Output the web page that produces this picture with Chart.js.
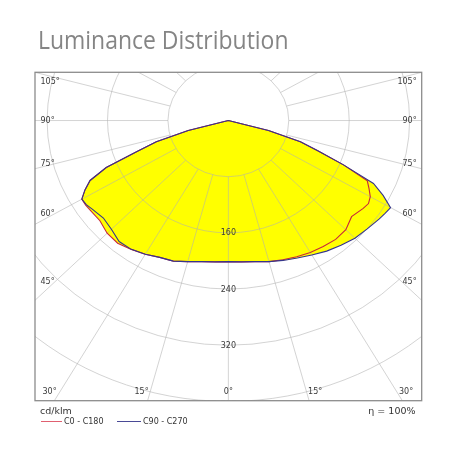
<!DOCTYPE html>
<html>
<head>
<meta charset="utf-8">
<script src="https://cdn.jsdelivr.net/npm/chart.js@4/dist/chart.umd.min.js"></script>
<style>
  html, body { margin: 0; padding: 0; background: #ffffff; }
  #wrap { position: relative; width: 458px; height: 458px; overflow: hidden; background: #fff; }
  #c { position: absolute; left: 0; top: 0; }
  .t { position: absolute; white-space: nowrap; line-height: 1; }
  #title { left: 37.5px; top: 26px; font-family: "Open Sans", sans-serif; font-size: 26px; color: #858585; transform-origin: 0 0; }
  #unit { left: 40px; top: 406px; font-family: "DejaVu Sans", sans-serif; font-size: 9.5px; color: #333; }
  #eta { right: 42.5px; top: 406px; font-family: "DejaVu Sans", sans-serif; font-size: 9.5px; color: #333; }
  .leg { position: absolute; top: 417.5px; height: 8px; display: flex; align-items: center; font-family: "DejaVu Sans", sans-serif; font-size: 8px; color: #333; white-space: nowrap; }
  .leg i { display: inline-block; width: 21px; height: 1px; margin-right: 2px; }
</style>
</head>
<body>
<div id="wrap">
  <canvas id="c" width="458" height="458"></canvas>
  <div class="t" id="title">Luminance Distribution</div>
  <div class="t" id="unit">cd/klm</div>
  <div class="t" id="eta">&eta; = 100%</div>
  <div class="leg" id="leg1" style="left:41px"><i style="background:#e06070"></i>C0 - C180</div>
  <div class="leg" id="leg2" style="left:117px"><i style="background:#4a4a96;width:24px"></i>C90 - C270</div>
</div>
<script>
// ---- data (cd/klm), gamma angles in degrees measured from nadir ----
const angles = [0,5,10,15,20,25,30,35,40,45,50,55,57.5,60,62.5,65,67.5,70,72.5,75,77.5,80,85,90];
const c0   = [201,202,204,208,211,214,217,219,221,220,213,218,220,217,210,203,165,126,100,55,0,0,0,0];
const c180 = [201,202,204,208,213,215,220,224,228,227,222,223,224,224,214,202,175,128,100,55,0,0,0,0];
const c90  = [201,202,204,208,212,216,221,227,232,237,240,244,246,248,231,212,165,126,100,55,0,0,0,0];
const c270 = [201,202,204,208,213,215,220,224,225,219,216,220,223,224,214,202,175,128,100,55,0,0,0,0];

const circleValues = [80,160,240,320,400,480,560,640];
const radialLabels = [160,240,320];
const sideAngleLabels = [105,90,75,60,45];
const bottomAngleLabels = [30,15,0];
const spokeStep = 15;

const seriesNames = ['C0 - C180','C90 - C270'];

// polar (gamma, value) -> cartesian data units; left half = C180/C270, right half = C0/C90
function curve(leftVals, rightVals) {
  const pts = [];
  for (let i = angles.length - 1; i >= 0; i--) {
    const g = angles[i] * Math.PI / 180;
    pts.push({ x: -leftVals[i] * Math.sin(g), y: -leftVals[i] * Math.cos(g) });
  }
  for (let i = 0; i < angles.length; i++) {
    const g = angles[i] * Math.PI / 180;
    pts.push({ x: rightVals[i] * Math.sin(g), y: -rightVals[i] * Math.cos(g) });
  }
  return pts;
}
const curveA = curve(c180, c0);
const curveB = curve(c270, c90);

const RED = '#c8283a';
const BLUE = '#35358c';
const YELLOW = '#ffff00';

const gridPlugin = {
  id: 'polarGrid',
  afterDatasetDraw(chart, args) {
    if (args.index !== 0) return;
    const {ctx, chartArea: a} = chart;
    const xs = chart.scales.x, ys = chart.scales.y;
    const cx = xs.getPixelForValue(0), cy = ys.getPixelForValue(0);
    const kx = (xs.getPixelForValue(100) - cx) / 100;
    const ky = (cy - ys.getPixelForValue(100)) / 100;
    ctx.save();
    ctx.beginPath();
    ctx.rect(a.left, a.top, a.right - a.left, a.bottom - a.top);
    ctx.clip();
    ctx.strokeStyle = 'rgba(175,175,175,0.55)';
    ctx.lineWidth = 1;
    circleValues.forEach(r => {
      ctx.beginPath();
      ctx.ellipse(cx, cy, r * kx, r * ky, 0, 0, Math.PI * 2);
      ctx.stroke();
    });
    const inner = circleValues[0];
    const outer = 2000;
    for (let d = 0; d < 360; d += spokeStep) {
      const g = d * Math.PI / 180;
      const s = Math.sin(g), c = Math.cos(g);
      ctx.beginPath();
      ctx.moveTo(cx + inner * s * kx, cy + inner * c * ky);
      ctx.lineTo(cx + outer * s * kx, cy + outer * c * ky);
      ctx.stroke();
    }
    ctx.restore();
  },
  afterDraw(chart) {
    const {ctx, chartArea: a} = chart;
    const xs = chart.scales.x, ys = chart.scales.y;
    const cx = xs.getPixelForValue(0), cy = ys.getPixelForValue(0);
    const kx = (xs.getPixelForValue(100) - cx) / 100;
    const ky = (cy - ys.getPixelForValue(100)) / 100;
    ctx.save();
    // frame
    ctx.strokeStyle = '#8c8c8c';
    ctx.lineWidth = 1.3;
    ctx.strokeRect(a.left, a.top, a.right - a.left, a.bottom - a.top);
    // labels
    ctx.fillStyle = '#3a3a3a';
    ctx.font = '8px "DejaVu Sans", sans-serif';
    ctx.textBaseline = 'middle';
    radialLabels.forEach(r => {
      ctx.textAlign = 'center';
      ctx.fillText(String(r), cx, cy + r * ky + 0.5);
    });
    sideAngleLabels.forEach(d => {
      const g = d * Math.PI / 180;
      const rr = (cx - a.left) / (kx * Math.sin(g));
      const hy = cy + rr * Math.cos(g) * ky;
      const y = Math.max(a.top + 10, hy - 0.1 * (hy - cy));
      ctx.textAlign = 'left';
      ctx.fillText(d + '°', a.left + 5.5, y);
      ctx.textAlign = 'right';
      ctx.fillText(d + '°', a.right - 5, y);
    });
    bottomAngleLabels.forEach(d => {
      const g = d * Math.PI / 180;
      const rr = (a.bottom - cy) / (ky * Math.cos(g));
      const hx = rr * Math.sin(g) * kx;
      const y = a.bottom - 8.5;
      const txt = d + '°';
      const w = ctx.measureText(txt).width;
      ctx.textAlign = 'center';
      [-1, 1].forEach(side => {
        if (d === 0 && side === 1) return;
        let x = cx + side * (hx + 0.075 * hx);
        x = Math.max(a.left + 7.5 + w / 2, Math.min(a.right - 8.5 - w / 2, x));
        ctx.fillText(txt, x, y);
      });
    });
    ctx.restore();
  }
};

new Chart(document.getElementById('c'), {
  type: 'scatter',
  data: {
    datasets: [
      { label: seriesNames[0] + ' fill', data: curveA, showLine: true, fill: 'shape', backgroundColor: YELLOW, borderWidth: 0, pointRadius: 0, order: 2 },
      { label: seriesNames[1] + ' fill', data: curveB, showLine: true, fill: 'shape', backgroundColor: YELLOW, borderWidth: 0, pointRadius: 0, order: 2 },
      { label: seriesNames[0], data: curveA, showLine: true, fill: false, borderColor: RED, borderWidth: 1.1, pointRadius: 0, tension: 0, order: 1 },
      { label: seriesNames[1], data: curveB, showLine: true, fill: false, borderColor: BLUE, borderWidth: 1.1, pointRadius: 0, tension: 0, order: 0 }
    ]
  },
  options: {
    responsive: false,
    animation: false,
    devicePixelRatio: 1,
    layout: { padding: { left: 35, right: 36.3, top: 72.3, bottom: 57.3 } },
    scales: {
      x: { type: 'linear', min: -256, max: 256, display: false },
      y: { type: 'linear', min: -399, max: 68.7, display: false }
    },
    plugins: {
      legend: { display: false },
      tooltip: { enabled: false },
      filler: { propagate: false }
    }
  },
  plugins: [gridPlugin]
});

// fit title width to the reference
const t = document.getElementById('title');
const tw = t.getBoundingClientRect().width;
t.style.transform = 'scaleX(' + (250.5 / tw) + ')';
</script>
</body>
</html>
